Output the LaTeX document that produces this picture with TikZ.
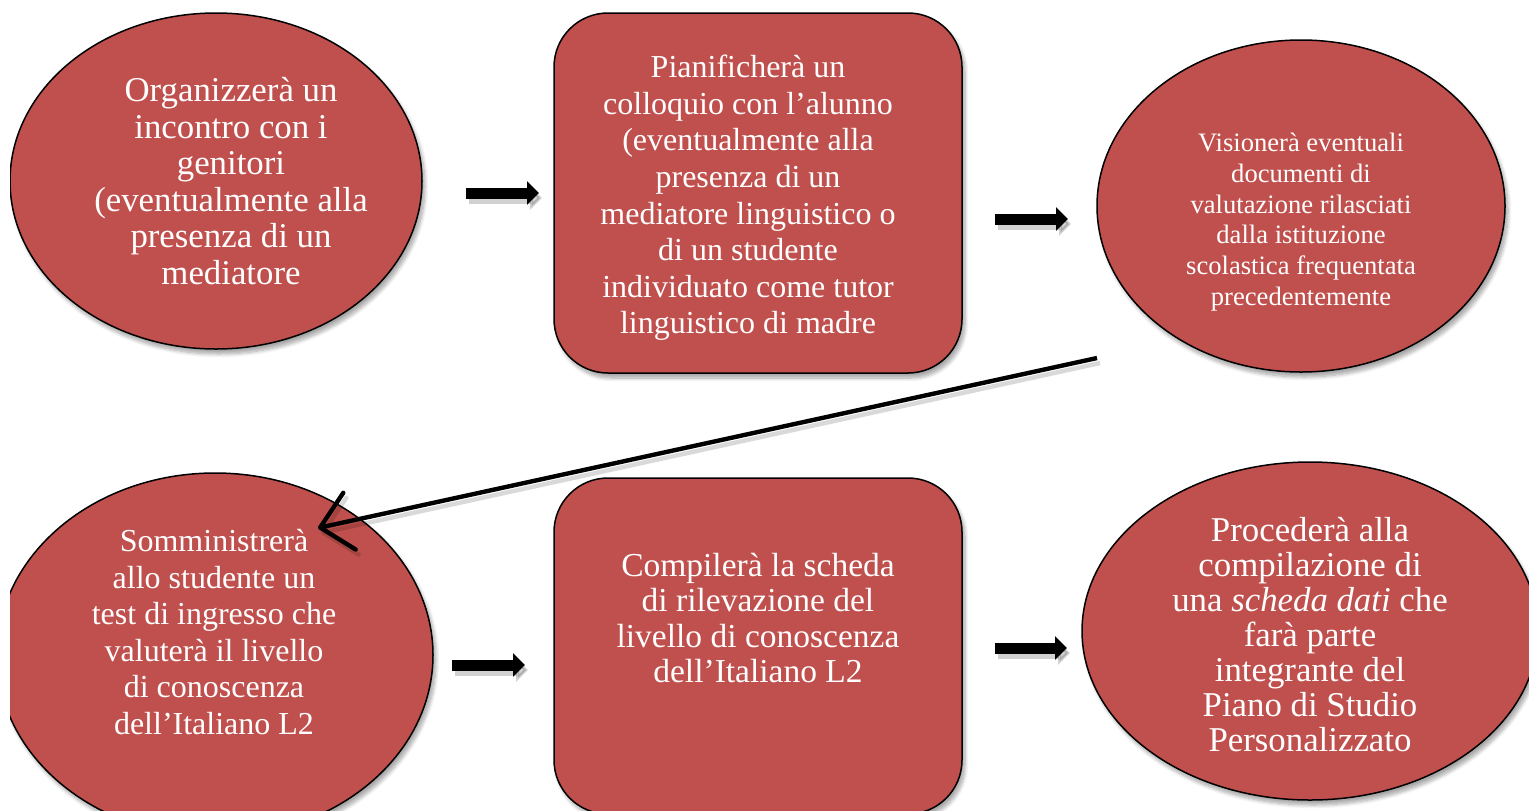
\documentclass[tikz,border=0pt]{standalone}
\usepackage{fontspec}
\setmainfont{Liberation Serif}
\usetikzlibrary{shapes.geometric,arrows.meta,shadows.blur}
\definecolor{boxred}{HTML}{C0504D}
\tikzset{
  shp/.style={draw=black, line width=0.75pt, fill=boxred, inner sep=0pt, outer sep=0pt,
    blur shadow={shadow xshift=1.5pt, shadow yshift=-2.5pt, shadow blur steps=8, shadow opacity=35}},
  oval/.style={shp, ellipse},
  rbox/.style={shp, rectangle, rounded corners=27pt},
  txt/.style={text=white, align=center, inner sep=0pt},
  big/.style={txt, font=\fontsize{17.4}{18.3}\selectfont},
  mid/.style={txt, font=\fontsize{16}{18.3}\selectfont},
  small/.style={txt, font=\fontsize{13.3}{15.4}\selectfont},
  blk/.style={line width=5.5pt, -{Triangle[length=6pt,width=11.5pt]}},
  blkshadow/.style={blk, draw=black, opacity=0.18, transform canvas={shift={(1.5pt,-2.5pt)}}},
  longarrow/.style={line width=2.2pt, -{Straight Barb[length=15pt,width=29pt,round]}},
  longshadow/.style={longarrow, draw=black, opacity=0.15, transform canvas={shift={(1.5pt,-2.5pt)}}},
}
\begin{document}
\begin{tikzpicture}[x=0.5pt, y=-0.5pt]
\useasboundingbox (0,0) rectangle (1529,810);
\begin{scope}
\clip (10,0) rectangle (1529,810);
% shapes
\node[oval, minimum width=206pt, minimum height=168pt] (e1) at (216,181) {};
\node[rbox, minimum width=204pt, minimum height=180pt] (r2) at (758,193) {};
\node[oval, minimum width=204pt, minimum height=166pt] (e3) at (1301,206) {};
\node[oval, minimum width=218pt, minimum height=182pt] (e4) at (215,655) {};
\node[rbox, minimum width=204pt, minimum height=168pt] (r5) at (758,646) {};
\node[oval, minimum width=228pt, minimum height=169pt] (e6) at (1310,631) {};
% texts
\node[big] (t1) at (231,181) {Organizzerà un\\incontro con i\\genitori\\(eventualmente alla\\presenza di un\\mediatore};
\node[mid] (t2) at (748,198) {Pianificherà un\\colloquio con l’alunno\\(eventualmente alla\\presenza di un\\mediatore linguistico o\\di un studente\\individuato come tutor\\linguistico di madre};
\node[small] (t3) at (1301,222) {Visionerà eventuali\\documenti di\\valutazione rilasciati\\dalla istituzione\\scolastica frequentata\\precedentemente};
\node[mid] (t4) at (214,632) {Somministrerà\\allo studente un\\test di ingresso che\\valuterà il livello\\di conoscenza\\dell’Italiano L2};
\node[txt, font=\fontsize{16.75}{17.75}\selectfont] (t5) at (758,618) {Compilerà la scheda\\di rilevazione del\\livello di conoscenza\\dell’Italiano L2};
\node[txt, font=\fontsize{17.4}{17.5}\selectfont] (t6) at (1310,635) {Procederà alla\\compilazione di\\una \textit{scheda dati} che\\farà parte\\integrante del\\Piano di Studio\\Personalizzato};
% block arrows
\draw[blkshadow] ([shift={(22pt,-6pt)}]e1.east) -- ([shift={(-7.5pt,0pt)}]r2.west);
\draw[blk] ([shift={(22pt,-6pt)}]e1.east) -- ([shift={(-7.5pt,0pt)}]r2.west);
\draw[blkshadow] ([shift={(16.5pt,-13pt)}]r2.east) -- ([shift={(-14.5pt,-6.5pt)}]e3.west);
\draw[blk] ([shift={(16.5pt,-13pt)}]r2.east) -- ([shift={(-14.5pt,-6.5pt)}]e3.west);
\draw[blkshadow] ([shift={(9.5pt,-5pt)}]e4.east) -- ([shift={(-14.5pt,-9.5pt)}]r5.west);
\draw[blk] ([shift={(9.5pt,-5pt)}]e4.east) -- ([shift={(-14.5pt,-9.5pt)}]r5.west);
\draw[blkshadow] ([shift={(16.5pt,-1pt)}]r5.east) -- ([shift={(-7.5pt,-8.5pt)}]e6.west);
\draw[blk] ([shift={(16.5pt,-1pt)}]r5.east) -- ([shift={(-7.5pt,-8.5pt)}]e6.west);
% long arrow
\coordinate (lstart) at (1097,358);
\coordinate (ltip) at (318,528);
\draw[longshadow] (lstart) -- (ltip);
\draw[longarrow] (lstart) -- (ltip);
\end{scope}
\end{tikzpicture}
\end{document}
